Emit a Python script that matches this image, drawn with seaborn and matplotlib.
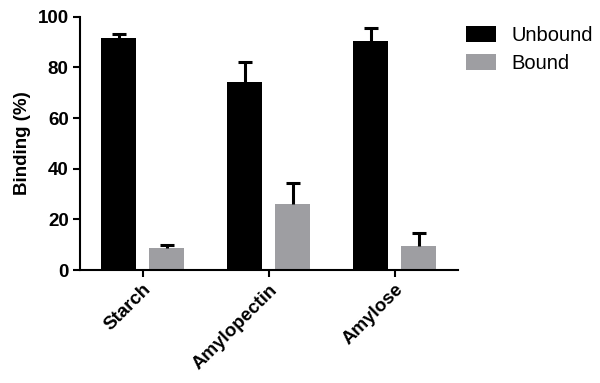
import matplotlib
matplotlib.use("Agg")
import matplotlib.pyplot as plt
import seaborn as sns
import pandas as pd
import numpy as np

categories = ["Starch", "Amylopectin", "Amylose"]
series = ["Unbound", "Bound"]
unbound_mean = [91.8, 74.2, 90.6]
unbound_err = [1.3, 8.1, 5.0]
bound_mean = [8.6, 26.1, 9.6]
bound_err = [1.3, 8.2, 5.1]
yticks = [0, 20, 40, 60, 80, 100]

sns.set_theme(style="ticks")
plt.rcParams['font.family'] = ['Liberation Sans', 'DejaVu Sans']
plt.rcParams.update({"text.color": "black", "axes.labelcolor": "black",
                     "xtick.color": "black", "ytick.color": "black"})

df = pd.DataFrame({
    "Category": categories * 2,
    "Series": [series[0]] * 3 + [series[1]] * 3,
    "Binding": unbound_mean + bound_mean,
    "Err": unbound_err + bound_err,
})

colors = {"Unbound": "#000000", "Bound": "#9e9ea2"}

fig = plt.figure(figsize=(6, 3.83), dpi=100)
ax = fig.add_axes([0.133, 0.295, 0.63, 0.661])

sns.barplot(data=df, x="Category", y="Binding", hue="Series", order=categories,
            hue_order=series, palette=colors, width=0.76, gap=0.27,
            errorbar=None, ax=ax, legend=True, linewidth=0, saturation=1)

# error bars (upper only), drawn at each bar's centre
for cont, s in zip(ax.containers, series):
    sub = df[df["Series"] == s].set_index("Category").loc[categories]
    xs = [p.get_x() + p.get_width() / 2 for p in cont.patches]
    means = sub["Binding"].values
    eb = ax.errorbar(xs, means,
                     yerr=[np.zeros(len(xs)), sub["Err"].values],
                     fmt="none", ecolor="black", elinewidth=2.2, capsize=5,
                     capthick=2.2, zorder=1)
    for cl in eb[1]:
        yd = np.asarray(cl.get_ydata())
        if np.allclose(yd, means):
            cl.set_visible(False)

ax.set_xlim(-0.5, 2.5)
ax.set_ylim(0, 100)
ax.set_yticks(yticks)
ax.set_yticklabels([str(t) for t in yticks], fontsize=13.5, fontweight="bold")
ax.set_xticks(range(len(categories)))
ax.set_xticklabels(categories, fontsize=13.5, fontweight="bold", rotation=45,
                   ha="right", rotation_mode="anchor")
ax.set_xlabel("")
ax.set_ylabel("Binding (%)", fontsize=13.5, fontweight="bold", labelpad=5)
sns.despine(ax=ax)
for sp in ["left", "bottom"]:
    ax.spines[sp].set_linewidth(1.5)
    ax.spines[sp].set_color("black")
ax.tick_params(axis="both", width=1.5, length=5, color="black", pad=3)

leg = ax.legend(loc="upper left", bbox_to_anchor=(466 / 600, 1 - 26 / 383),
                bbox_transform=fig.transFigure, frameon=False,
                fontsize=14.5, handlelength=1.5, handleheight=0.85,
                handletextpad=0.75, labelspacing=0.45, borderaxespad=0,
                borderpad=0)

fig.savefig("out.png", dpi=100)
